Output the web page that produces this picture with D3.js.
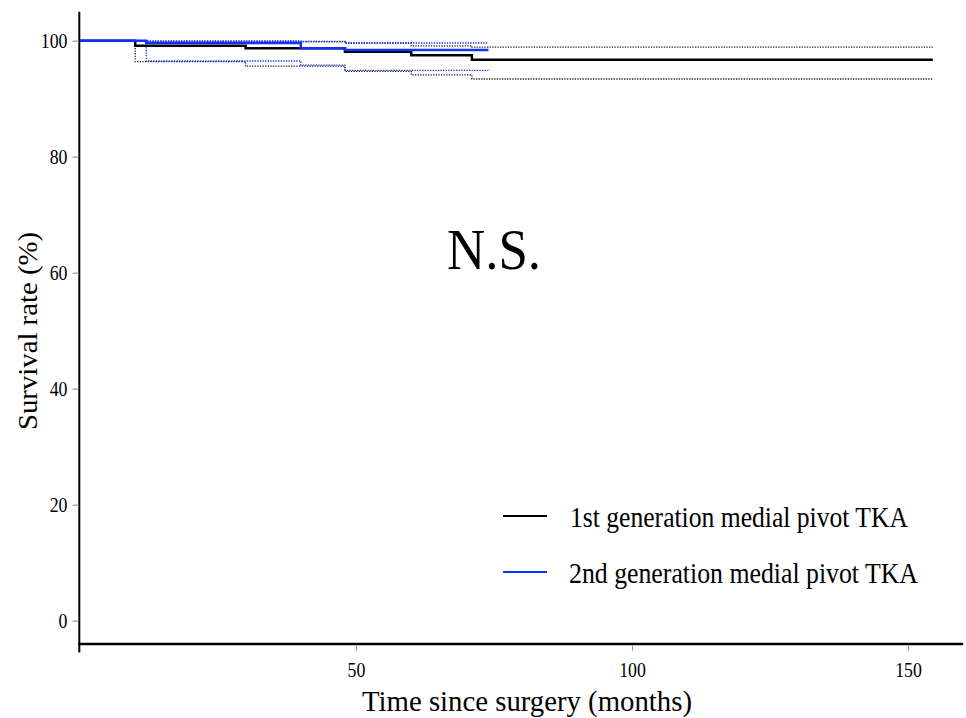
<!DOCTYPE html>
<html>
<head>
<meta charset="utf-8">
<script src="https://cdn.jsdelivr.net/npm/d3@7"></script>
<style>
  body { margin: 0; background: #fff; }
  text { font-family: "Liberation Serif", "Times New Roman", serif; fill: #000; }
</style>
</head>
<body>
<div id="chart"></div>
<script>
// Kaplan-Meier steps: each value holds from its time until the next one
const months1 = [0, 10, 30, 48, 60, 71, 154.5];
const surv1 = [100, 99.15, 98.7, 98.1, 97.5, 96.7, 96.7];
const upper1 = [100, 99.9, 99.9, 99.6, 99.1, 98.9, 98.9];
const lower1 = [100, 96.4, 95.6, 94.7, 94.1, 93.4, 93.4];

const months2 = [0, 12, 40, 48, 74];
const surv2 = [100, 99.6, 98.7, 98.4, 98.4];
const upper2 = [100, 99.95, 99.8, 99.6, 99.6];
const lower2 = [100, 96.5, 95.8, 94.9, 94.9];

const yTicks = [0, 20, 40, 60, 80, 100];
const xTicks = [50, 100, 150];
const seriesNames = ["1st generation medial pivot TKA", "2nd generation medial pivot TKA"];

const width = 966, height = 718;
const black = "#000", blue = "#1030ff";

const svg = d3.select("#chart").append("svg")
  .attr("width", width)
  .attr("height", height);

const x = d3.scaleLinear().domain([0, 160]).range([80, 963.2]);
const y = d3.scaleLinear().domain([0, 100]).range([620.7, 40.7]);

// axis lines
svg.append("line")
  .attr("x1", x(0) - 0.7).attr("x2", x(0) - 0.7)
  .attr("y1", y(105)).attr("y2", y(-5.5))
  .attr("stroke", "#000").attr("stroke-width", 2);
svg.append("line")
  .attr("x1", x(0) - 1.7).attr("x2", x(160))
  .attr("y1", y(-4)).attr("y2", y(-4))
  .attr("stroke", "#000").attr("stroke-width", 2.5);

// y ticks
const yAxis = svg.append("g")
  .attr("transform", `translate(${x(0) - 1.5},0)`)
  .call(d3.axisLeft(y).tickValues(yTicks).tickSize(6).tickPadding(5));
yAxis.select(".domain").remove();
yAxis.selectAll(".tick line").attr("stroke", "#999").attr("stroke-width", 1.2);
yAxis.selectAll(".tick text")
  .attr("font-size", 20.5)
  .attr("font-family", "Liberation Serif, serif")
  .attr("dy", "0.34em")
  .attr("textLength", d => String(d).length * 8.9)
  .attr("lengthAdjust", "spacingAndGlyphs");

// x ticks
const xAxis = svg.append("g")
  .attr("transform", `translate(0,${y(-4) + 1})`)
  .call(d3.axisBottom(x).tickValues(xTicks).tickSize(6).tickPadding(12));
xAxis.select(".domain").remove();
xAxis.selectAll(".tick line").attr("stroke", "#999").attr("stroke-width", 1.2);
xAxis.selectAll(".tick text")
  .attr("font-size", 20.5)
  .attr("font-family", "Liberation Serif, serif")
  .attr("textLength", d => String(d).length * 8.9)
  .attr("lengthAdjust", "spacingAndGlyphs");

// titles
svg.append("text")
  .attr("x", 527).attr("y", 711)
  .attr("text-anchor", "middle")
  .attr("font-size", 29)
  .attr("textLength", 330).attr("lengthAdjust", "spacingAndGlyphs")
  .text("Time since surgery (months)");

svg.append("text")
  .attr("transform", "translate(37,331) rotate(-90)")
  .attr("text-anchor", "middle")
  .attr("font-size", 28)
  .attr("textLength", 198).attr("lengthAdjust", "spacingAndGlyphs")
  .text("Survival rate (%)");

svg.append("text")
  .attr("x", 494).attr("y", 269)
  .attr("text-anchor", "middle")
  .attr("font-size", 56)
  .attr("textLength", 94).attr("lengthAdjust", "spacingAndGlyphs")
  .text("N.S.");

// curves
const step = (times, vals) => d3.line()
  .x((d, i) => x(times[i]))
  .y(d => y(d))
  .curve(d3.curveStepAfter)(vals);

const ci = [
  { t: months1, v: upper1, c: "#222" },
  { t: months1, v: lower1, c: "#222" },
  { t: months2, v: upper2, c: blue },
  { t: months2, v: lower2, c: blue }
];
ci.forEach(d => {
  svg.append("path")
    .attr("d", step(d.t, d.v))
    .attr("fill", "none")
    .attr("stroke", d.c)
    .attr("stroke-width", 1.3)
    .attr("stroke-dasharray", "1.3,1.3");
});

svg.append("path")
  .attr("d", step(months1, surv1))
  .attr("fill", "none")
  .attr("stroke", black)
  .attr("stroke-width", 2.5);

svg.append("path")
  .attr("d", step(months2, surv2))
  .attr("fill", "none")
  .attr("stroke", blue)
  .attr("stroke-width", 2.5);

// legend
const legend = [
  { name: seriesNames[0], c: black, ly: 516, tx: 570, len: 338 },
  { name: seriesNames[1], c: blue, ly: 572, tx: 569, len: 349 }
];
legend.forEach(d => {
  svg.append("line")
    .attr("x1", 503).attr("x2", 547)
    .attr("y1", d.ly).attr("y2", d.ly)
    .attr("stroke", d.c).attr("stroke-width", 2.2);
  svg.append("text")
    .attr("x", d.tx).attr("y", d.ly + 10.5)
    .attr("font-size", 29)
    .attr("textLength", d.len).attr("lengthAdjust", "spacingAndGlyphs")
    .text(d.name);
});
</script>
</body>
</html>
